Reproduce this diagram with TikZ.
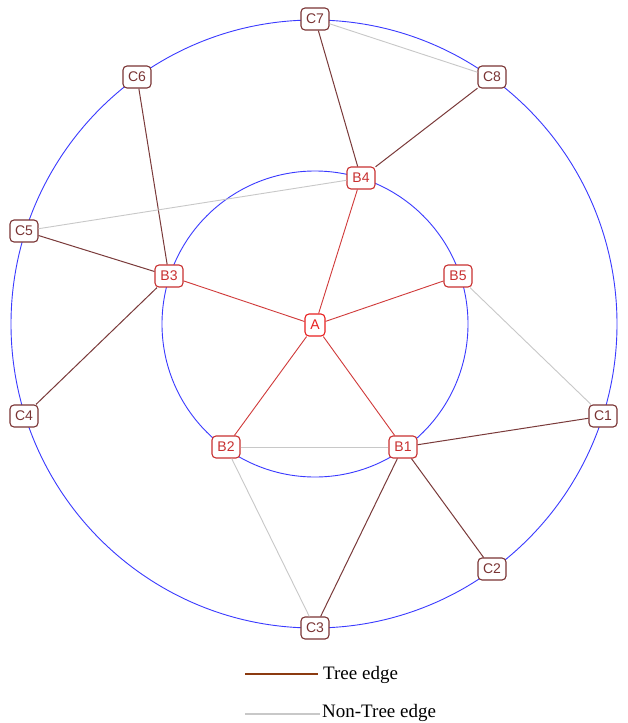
\documentclass[tikz,border=0pt]{standalone}
\usepackage{fontspec}
\setmainfont{Liberation Serif}
\newfontfamily\nodefont{Liberation Sans}
\definecolor{ringblue}{HTML}{3A3AFF}
\definecolor{rootred}{HTML}{E82020}
\definecolor{bred}{HTML}{C83030}
\definecolor{cbrown}{HTML}{7A3434}
\definecolor{aedge}{HTML}{D03A3A}
\definecolor{tedge}{HTML}{7A3A3A}
\definecolor{legbrown}{HTML}{8B3A10}
\definecolor{ntedge}{HTML}{C8C8C8}
\tikzset{
  vtx/.style={draw, fill=white, rounded corners=4pt, line width=1.1pt, inner sep=1.5pt,
    minimum height=22pt, minimum width=28pt, font=\nodefont\fontsize{14}{14}\selectfont},
  rootv/.style={vtx, draw=rootred, text=rootred, minimum width=20pt},
  bv/.style={vtx, draw=bred, text=bred},
  cv/.style={vtx, draw=cbrown, text=cbrown},
  ring/.style={draw=ringblue, line width=0.9pt},
  aline/.style={draw=aedge, line width=0.9pt},
  tline/.style={draw=tedge, line width=1pt},
  ntline/.style={draw=ntedge, line width=0.9pt},
  legtext/.style={anchor=west, inner sep=0pt, font=\fontsize{19}{19}\selectfont}
}
\begin{document}
\begin{tikzpicture}[x=1pt,y=-1pt]
\useasboundingbox (0,0) rectangle (627,723);
\fill[white] (0,0) rectangle (627,723);
% rings
\draw[ring] (314,324) ellipse [x radius=303, y radius=304];
\draw[ring] (315,324) circle [radius=153];
% nodes
\node[rootv] (A) at (315,325) {A};
\node[bv] (B1) at (403,447) {B1};
\node[bv] (B2) at (226,447) {B2};
\node[bv] (B3) at (169,276) {B3};
\node[bv] (B4) at (361,178) {B4};
\node[bv] (B5) at (458,276) {B5};
\node[cv] (C1) at (603,416) {C1};
\node[cv] (C2) at (492,569) {C2};
\node[cv] (C3) at (315,628) {C3};
\node[cv] (C4) at (24,416) {C4};
\node[cv] (C5) at (24,231) {C5};
\node[cv] (C6) at (137,77) {C6};
\node[cv] (C7) at (315,19) {C7};
\node[cv] (C8) at (492,77) {C8};
% edges
\path[aline] (A) -- (B1);
\path[aline] (A) -- (B2);
\path[aline] (A) -- (B3);
\path[aline] (A) -- (B4);
\path[aline] (A) -- (B5);
\path[tline] (B4) -- (C7);
\path[tline] (B4) -- (C8);
\path[tline] (B3) -- (C6);
\path[tline] (B3) -- (C5);
\path[tline] (B3) -- (C4);
\path[tline] (B1) -- (C1);
\path[tline] (B1) -- (C2);
\path[tline] (B1) -- (C3);
\path[ntline] (C7) -- (C8);
\path[ntline] (C5) -- (B4);
\path[ntline] (B5) -- (C1);
\path[ntline] (B2) -- (B1);
\path[ntline] (B2) -- (C3);
% legend
\coordinate (l1a) at (245,674);
\coordinate (l1b) at (318,674);
\coordinate (l2a) at (245,714);
\coordinate (l2b) at (320,714);
\draw[draw=legbrown, line width=2.4pt] (l1a) -- (l1b);
\draw[draw=ntedge, line width=2.4pt] (l2a) -- (l2b);
\node[legtext] (t1) at (323,675) {Tree edge};
\node[legtext] (t2) at (322,713) {Non-Tree edge};
\end{tikzpicture}
\end{document}
